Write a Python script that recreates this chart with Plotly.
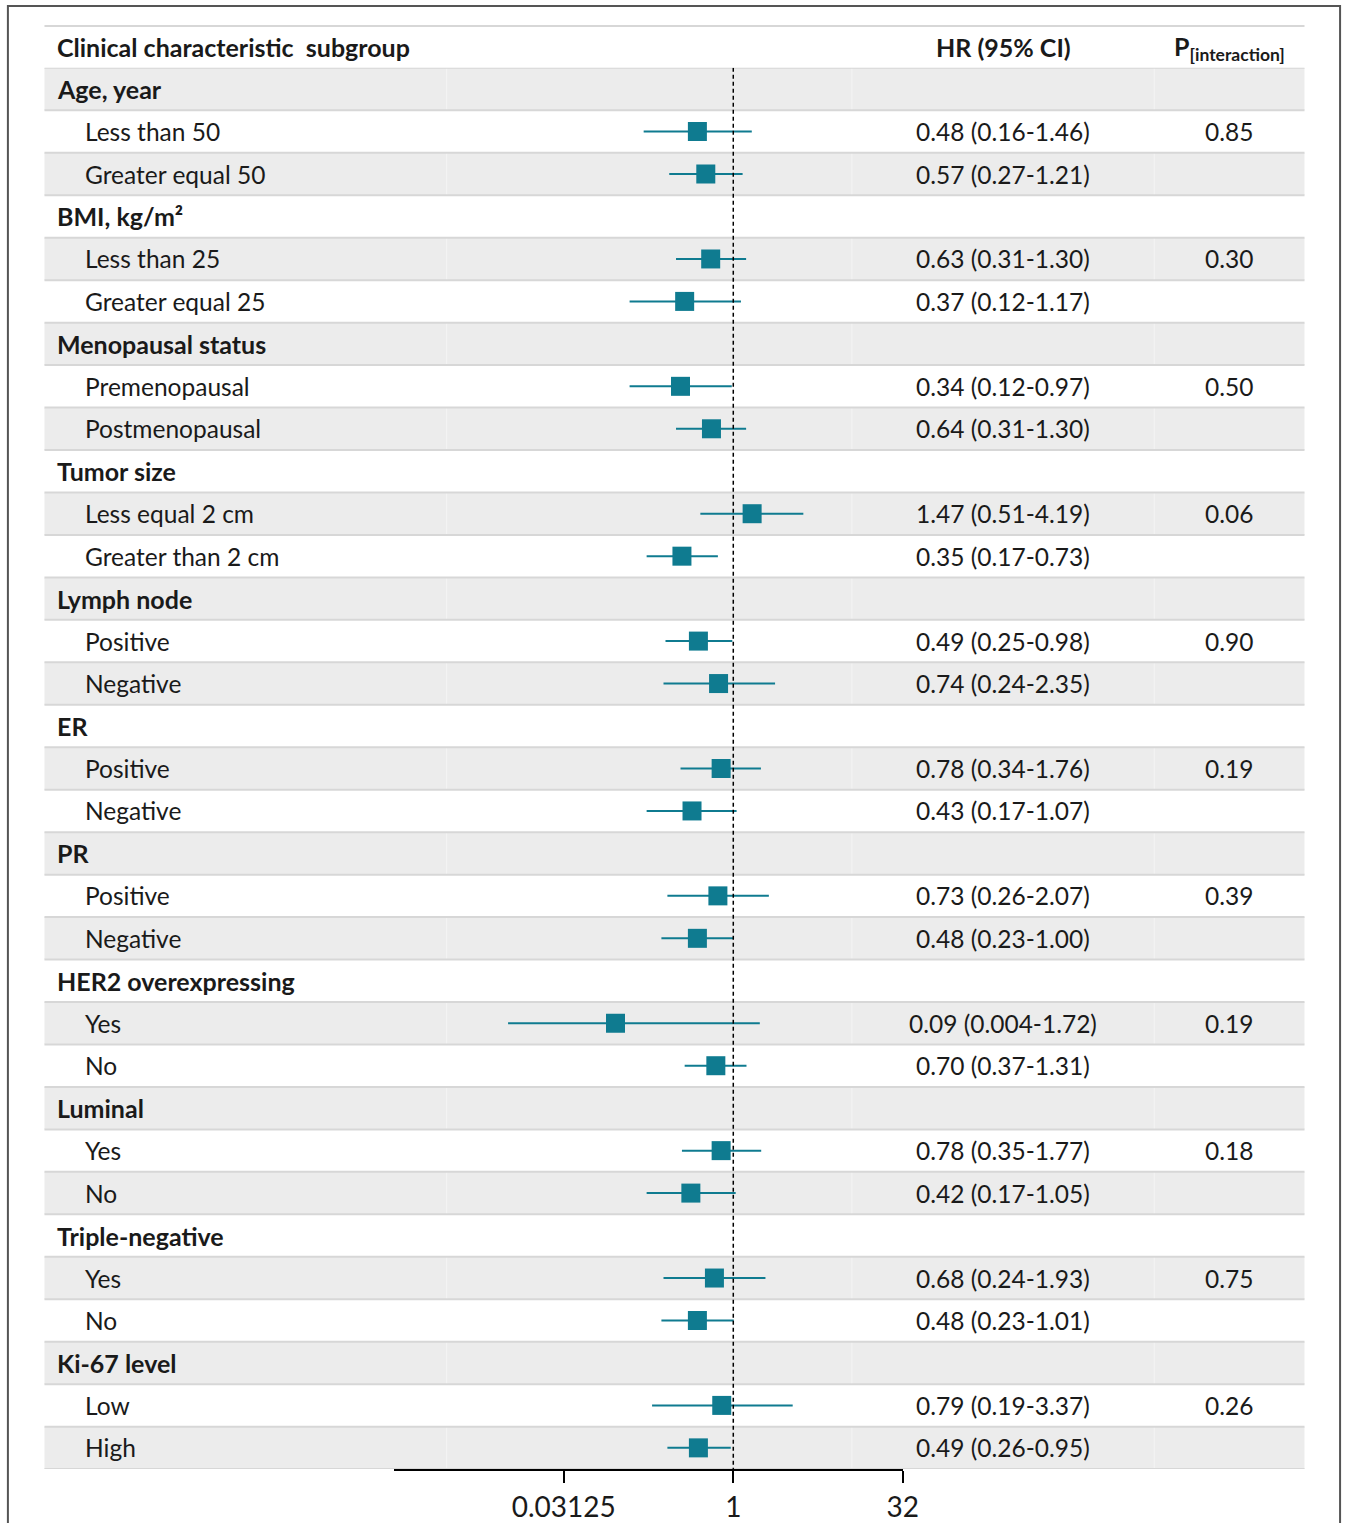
import math
import plotly.graph_objects as go

W, H = 1362, 1523

groups = ["Age, year", "BMI, kg/m²", "Menopausal status", "Tumor size", "Lymph node",
          "ER", "PR", "HER2 overexpressing", "Luminal", "Triple-negative", "Ki-67 level"]
subgroups = [["Less than 50", "Greater equal 50"],
             ["Less than 25", "Greater equal 25"],
             ["Premenopausal", "Postmenopausal"],
             ["Less equal 2 cm", "Greater than 2 cm"],
             ["Positive", "Negative"],
             ["Positive", "Negative"],
             ["Positive", "Negative"],
             ["Yes", "No"],
             ["Yes", "No"],
             ["Yes", "No"],
             ["Low", "High"]]
hr = [0.48, 0.57, 0.63, 0.37, 0.34, 0.64, 1.47, 0.35, 0.49, 0.74, 0.78,
      0.43, 0.73, 0.48, 0.09, 0.70, 0.78, 0.42, 0.68, 0.48, 0.79, 0.49]
ci_lo = [0.16, 0.27, 0.31, 0.12, 0.12, 0.31, 0.51, 0.17, 0.25, 0.24, 0.34,
         0.17, 0.26, 0.23, 0.01, 0.37, 0.35, 0.17, 0.24, 0.23, 0.19, 0.26]
ci_hi = [1.46, 1.21, 1.30, 1.17, 0.97, 1.30, 4.19, 0.73, 0.98, 2.35, 1.76,
         1.07, 2.07, 1.00, 1.72, 1.31, 1.77, 1.05, 1.93, 1.01, 3.37, 0.95]
ci_text = ["0.48 (0.16-1.46)", "0.57 (0.27-1.21)", "0.63 (0.31-1.30)", "0.37 (0.12-1.17)",
           "0.34 (0.12-0.97)", "0.64 (0.31-1.30)", "1.47 (0.51-4.19)", "0.35 (0.17-0.73)",
           "0.49 (0.25-0.98)", "0.74 (0.24-2.35)", "0.78 (0.34-1.76)", "0.43 (0.17-1.07)",
           "0.73 (0.26-2.07)", "0.48 (0.23-1.00)", "0.09 (0.004-1.72)", "0.70 (0.37-1.31)",
           "0.78 (0.35-1.77)", "0.42 (0.17-1.05)", "0.68 (0.24-1.93)", "0.48 (0.23-1.01)",
           "0.79 (0.19-3.37)", "0.49 (0.26-0.95)"]
p_interaction = ["0.85", "0.30", "0.50", "0.06", "0.90", "0.19", "0.39", "0.19", "0.18", "0.75", "0.26"]
tick_vals = [0.03125, 1, 32]
tick_text = ["0.03125", "1", "32"]

FONT = "Lato"
TEAL = "#0f7b90"
TXT = "#1a1a1a"
NROWS = 3 * len(groups)
FS = 24.5
FSB = 25

def px(x):
    return x / W

def py(y):
    return 1 - y / H

sub_rows = []
for g in range(len(groups)):
    sub_rows += [3 * g + 1, 3 * g + 2]

fig = go.Figure()

lx, ly = [], []
for r, lo, hi in zip(sub_rows, ci_lo, ci_hi):
    lx += [lo, hi, None]
    ly += [r, r, None]
fig.add_trace(go.Scatter(x=lx, y=ly, mode="lines", line=dict(color=TEAL, width=2),
                         hoverinfo="skip", showlegend=False))
fig.add_trace(go.Scatter(x=hr, y=sub_rows, mode="markers",
                         marker=dict(symbol="square", size=19, color=TEAL, line=dict(width=0)),
                         showlegend=False, hoverinfo="skip"))

shapes = []
TL, TR = px(45), px(1320)
shapes.append(dict(type="rect", xref="paper", yref="paper", x0=px(8), x1=px(1356),
                   y0=py(6), y1=-0.02, line=dict(color="#555555", width=2), layer="below"))
for r in range(0, NROWS, 2):
    shapes.append(dict(type="rect", xref="paper", yref="y", x0=TL, x1=TR,
                       y0=r - 0.5, y1=r + 0.5, fillcolor="#ececec", line=dict(width=0), layer="below"))
    for cx in (452, 862, 1168):
        shapes.append(dict(type="line", xref="paper", yref="y", x0=px(cx), x1=px(cx),
                           y0=r - 0.5, y1=r + 0.5, line=dict(color="#f4f4f4", width=1), layer="below"))
for r in range(NROWS + 1):
    shapes.append(dict(type="line", xref="paper", yref="y", x0=TL, x1=TR,
                       y0=r - 0.5, y1=r - 0.5, line=dict(color="#d7d7d7", width=2), layer="below"))
shapes.append(dict(type="line", xref="paper", yref="paper", x0=TL, x1=TR,
                   y0=py(26), y1=py(26), line=dict(color="#d7d7d7", width=2), layer="below"))
shapes.append(dict(type="line", xref="x", yref="y", x0=1, x1=1, y0=-0.5, y1=NROWS - 0.5,
                   line=dict(color="black", width=1.5, dash="4px,3px"), layer="above"))

ann = []
def add_text(x, y, text, anchor="left", bold=False, yref="y", size=None):
    if size is None:
        size = FSB if bold else FS
    ann.append(dict(x=x, y=y, xref="paper", yref=yref, text=f"<b>{text}</b>" if bold else text,
                    showarrow=False, xanchor=anchor, yanchor="middle",
                    font=dict(family=FONT, size=size, color=TXT)))

add_text(px(56), py(47), "Clinical characteristic\u00a0 subgroup", bold=True, yref="paper")
add_text(px(1015), py(47), "HR (95% CI)", anchor="center", bold=True, yref="paper")
add_text(px(1244), py(48), "P<sub>[interaction]</sub>", anchor="center", bold=True, yref="paper")

k = 0
for g, name in enumerate(groups):
    add_text(px(56), 3 * g, name, bold=True)
    for j, s in enumerate(subgroups[g]):
        r = 3 * g + 1 + j
        add_text(px(84), r, s)
        add_text(px(1015), r, ci_text[k], anchor="center")
        k += 1
    add_text(px(1244), 3 * g + 1, p_interaction[g], anchor="center")

fig.update_layout(
    width=W, height=H, margin=dict(l=0, r=0, t=0, b=0),
    paper_bgcolor="white", plot_bgcolor="rgba(0,0,0,0)",
    shapes=shapes, annotations=ann, showlegend=False,
    xaxis=dict(type="log", domain=[px(399), px(913.5)],
               range=[math.log10(2 ** -10), math.log10(2 ** 5)],
               tickvals=tick_vals, ticktext=tick_text,
               showline=True, linecolor="black", linewidth=2,
               ticks="outside", ticklen=12, tickwidth=2, tickcolor="black",
               showgrid=False, zeroline=False,
               tickfont=dict(family=FONT, size=28, color=TXT)),
    yaxis=dict(domain=[py(1472), py(68)], range=[NROWS - 0.5, -0.5],
               visible=False, showgrid=False, zeroline=False),
)

fig.write_html("out.html")
